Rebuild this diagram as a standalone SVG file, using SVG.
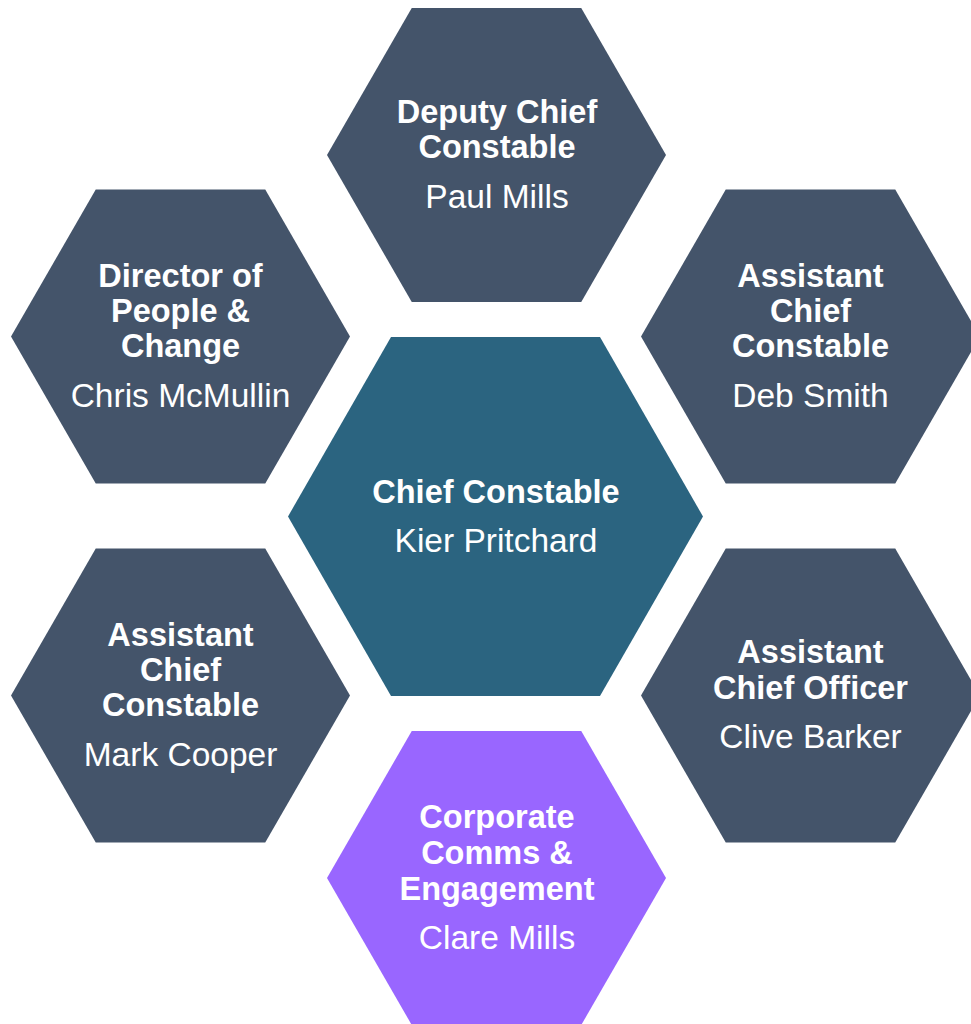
<svg xmlns="http://www.w3.org/2000/svg" xmlns:xlink="http://www.w3.org/1999/xlink" width="971" height="1024" viewBox="0 0 971 1024">
<style>
.dark{fill:#44546A}
.teal{fill:#2B6480}
.purple{fill:#9966FF}
.t{font-family:"Liberation Sans",Arial,sans-serif;font-weight:bold;font-size:32.5px;fill:#fff;text-anchor:middle}
.n{font-family:"Liberation Sans",Arial,sans-serif;font-size:33.5px;fill:#fff;text-anchor:middle}
</style>
<defs>
<polygon id="hex" points="-84.75,-147 84.75,-147 169.5,0 84.75,147 -84.75,147 -169.5,0"/>
<polygon id="hexC" points="-104.5,-179.5 104.5,-179.5 207.5,0 104.5,179.5 -104.5,179.5 -207.5,0"/>
</defs>
<rect width="971" height="1024" fill="#fff"/>
<g id="connectors"/>
<g id="deputy-chief-constable">
<use xlink:href="#hex" href="#hex" class="dark" transform="translate(496.5,155)"/>
<text class="t" x="497" y="123">Deputy Chief</text>
<text class="t" x="497" y="158">Constable</text>
<text class="n" x="497" y="208">Paul Mills</text>
</g>
<g id="director-people-change">
<use xlink:href="#hex" href="#hex" class="dark" transform="translate(180.5,336.5)"/>
<text class="t" x="180.5" y="287">Director of</text>
<text class="t" x="180.5" y="322">People &amp;</text>
<text class="t" x="180.5" y="357">Change</text>
<text class="n" x="180.5" y="407">Chris McMullin</text>
</g>
<g id="acc-deb-smith">
<use xlink:href="#hex" href="#hex" class="dark" transform="translate(810.5,336.5)"/>
<text class="t" x="810.5" y="287">Assistant</text>
<text class="t" x="810.5" y="322">Chief</text>
<text class="t" x="810.5" y="357">Constable</text>
<text class="n" x="810.5" y="407">Deb Smith</text>
</g>
<g id="chief-constable">
<use xlink:href="#hexC" href="#hexC" class="teal" transform="translate(495.5,516.5)"/>
<text class="t" x="496" y="503">Chief Constable</text>
<text class="n" x="496" y="552">Kier Pritchard</text>
</g>
<g id="acc-mark-cooper">
<use xlink:href="#hex" href="#hex" class="dark" transform="translate(180.5,695.5)"/>
<text class="t" x="180.5" y="646">Assistant</text>
<text class="t" x="180.5" y="681">Chief</text>
<text class="t" x="180.5" y="716">Constable</text>
<text class="n" x="180.5" y="766">Mark Cooper</text>
</g>
<g id="aco-clive-barker">
<use xlink:href="#hex" href="#hex" class="dark" transform="translate(810.5,695.5)"/>
<text class="t" x="810.5" y="663">Assistant</text>
<text class="t" x="810.5" y="699">Chief Officer</text>
<text class="n" x="810.5" y="748">Clive Barker</text>
</g>
<g id="corporate-comms">
<use xlink:href="#hex" href="#hex" class="purple" transform="translate(496.5,878)"/>
<text class="t" x="497" y="828">Corporate</text>
<text class="t" x="497" y="864">Comms &amp;</text>
<text class="t" x="497" y="900">Engagement</text>
<text class="n" x="497" y="949">Clare Mills</text>
</g>
</svg>
